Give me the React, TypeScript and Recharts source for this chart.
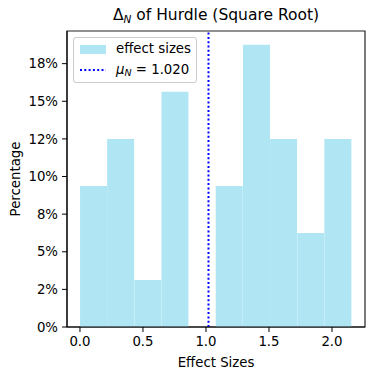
import { ComposedChart, Bar, XAxis, YAxis, ReferenceLine, ReferenceArea } from 'recharts';

// histogram bins (centres) and share of effect sizes in each (%)
const binCenters = [0.108, 0.323, 0.539, 0.754, 0.970, 1.185, 1.401, 1.616, 1.832, 2.047];
const percentages = [9.375, 12.5, 3.125, 15.625, 0, 9.375, 18.75, 12.5, 6.25, 12.5];
const meanValue = 1.02;

const xDomain = [-0.103, 2.262];
const yDomain = [0, 19.67];
const xTicks = [0, 0.5, 1, 1.5, 2];
const xTickLabels = ['0.0', '0.5', '1.0', '1.5', '2.0'];
const yTicks = [0, 2.5, 5, 7.5, 10, 12.5, 15, 17.5];
const yTickLabels = ['0%', '2%', '5%', '8%', '10%', '12%', '15%', '18%'];

const data = binCenters.map((x, i) => ({ x, pct: percentages[i] }));

const FONT = '"DejaVu Sans", sans-serif';
const tickStyle = { fontSize: 13.3, fill: '#000', fontFamily: FONT };

export default function App() {
  return (
    <div style={{ position: 'absolute', left: 0, top: 0, width: 375, height: 377, background: '#fff', fontFamily: FONT }}>
      <div style={{ position: 'absolute', left: 67, width: 298, top: 6, textAlign: 'center', fontSize: 15.5, color: '#000' }}>
        Δ<sub style={{ fontStyle: 'italic', fontSize: 10.5, verticalAlign: '-3px' }}>N</sub> of Hurdle (Square Root)
      </div>
      <ComposedChart
        width={375}
        height={377}
        data={data}
        margin={{ top: 31, right: 10, left: 0, bottom: 0 }}
        barCategoryGap={0}
        barGap={0}
      >
        <XAxis
          dataKey="x"
          type="number"
          domain={xDomain}
          ticks={xTicks}
          tickFormatter={(v: number) => xTickLabels[xTicks.indexOf(v)] ?? String(v)}
          tick={tickStyle}
          tickSize={5}
          tickMargin={5}
          height={50}
          stroke="#000"
          allowDataOverflow
          label={{ value: 'Effect Sizes', position: 'insideBottom', offset: 10, style: { ...tickStyle, textAnchor: 'middle' } }}
        />
        <YAxis
          type="number"
          domain={yDomain}
          ticks={yTicks}
          tickFormatter={(v: number) => yTickLabels[yTicks.indexOf(v)] ?? String(v)}
          tick={tickStyle}
          tickSize={5}
          tickMargin={4}
          width={67}
          stroke="#000"
          allowDataOverflow
          label={{ value: 'Percentage', angle: -90, position: 'insideLeft', offset: 15, style: { ...tickStyle, textAnchor: 'middle' } }}
        />
        <Bar dataKey="pct" fill="#b0e6f4" isAnimationActive={false} />
        <ReferenceLine x={meanValue} stroke="#0000ff" strokeWidth={2} strokeDasharray="2 2.3" />
        <ReferenceArea
          x1={xDomain[0]}
          x2={xDomain[1]}
          y1={yDomain[0]}
          y2={yDomain[1]}
          fill="none"
          fillOpacity={0}
          stroke="#222"
          strokeWidth={1.2}
          strokeOpacity={1}
          ifOverflow="visible"
        />
      </ComposedChart>
      <div
        style={{
          position: 'absolute', left: 73, top: 37, width: 124, height: 46, boxSizing: 'border-box',
          border: '1px solid #ccc', borderRadius: 3, background: 'rgba(255,255,255,0.8)', fontSize: 13.3, color: '#000',
        }}
      >
        <div style={{ position: 'absolute', left: 6, top: 7, width: 26, height: 9, background: '#b0e6f4' }} />
        <div style={{ position: 'absolute', left: 42, top: 2, lineHeight: '17px' }}>effect sizes</div>
        <svg style={{ position: 'absolute', left: 6, top: 30 }} width={26} height={4}>
          <line x1={0} y1={2} x2={26} y2={2} stroke="#0000ff" strokeWidth={2} strokeDasharray="2 2.3" />
        </svg>
        <div style={{ position: 'absolute', left: 42, top: 23, lineHeight: '17px' }}>
          <i>μ</i><sub style={{ fontStyle: 'italic', fontSize: 9.5, verticalAlign: '-2px' }}>N</sub> = 1.020
        </div>
      </div>
    </div>
  );
}
